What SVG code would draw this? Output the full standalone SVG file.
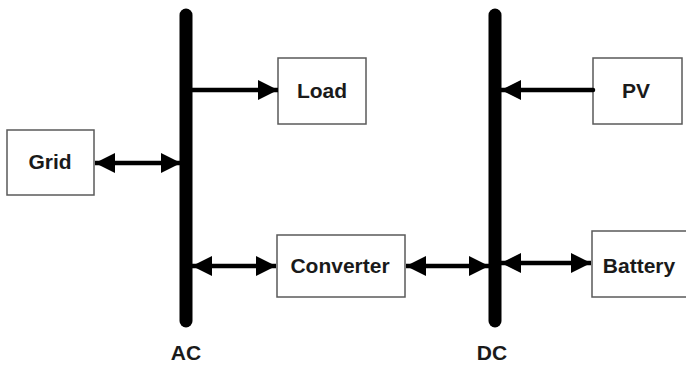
<svg xmlns="http://www.w3.org/2000/svg" width="686" height="367" viewBox="0 0 686 367">
<style>
.box{fill:#fff;stroke:#5a5a5a;stroke-width:1.5}
.lbl{font-family:"Liberation Sans",Arial,sans-serif;font-weight:bold;font-size:21px;fill:#1a1a1a;text-anchor:middle}
.bus{stroke:#000;stroke-width:13;stroke-linecap:round}
.arr{stroke:#000;stroke-width:4.5;fill:none}
</style>
<defs>
<marker id="ah" markerUnits="userSpaceOnUse" markerWidth="22" markerHeight="22" refX="20" refY="10" orient="auto-start-reverse">
<path d="M0,0 L20,10 L0,20 z" fill="#000"/>
</marker>
</defs>
<rect width="686" height="367" fill="#fff"/>
<g id="ac-bus">
<line class="bus" x1="186" y1="15" x2="186" y2="321"/>
<text class="lbl" x="186" y="360">AC</text>
</g>
<g id="dc-bus">
<line class="bus" x1="495" y1="15" x2="495" y2="321"/>
<text class="lbl" x="492" y="360">DC</text>
</g>
<g id="grid">
<rect class="box" x="7" y="130" width="87" height="65"/>
<text class="lbl" x="50" y="169">Grid</text>
</g>
<g id="load">
<rect class="box" x="278" y="58" width="88" height="66"/>
<text class="lbl" x="322" y="98">Load</text>
</g>
<g id="converter">
<rect class="box" x="277" y="235" width="128" height="62"/>
<text class="lbl" x="340" y="273">Converter</text>
</g>
<g id="pv">
<rect class="box" x="593" y="58" width="89" height="66"/>
<text class="lbl" x="636" y="98">PV</text>
</g>
<g id="battery">
<rect class="box" x="592" y="231" width="100" height="66"/>
<text class="lbl" x="639" y="273">Battery</text>
</g>
<g id="connectors">
<line class="arr" x1="192" y1="90" x2="278" y2="90" marker-end="url(#ah)"/>
<line class="arr" x1="95" y1="163" x2="181" y2="163" marker-start="url(#ah)" marker-end="url(#ah)"/>
<line class="arr" x1="192" y1="266" x2="276" y2="266" marker-start="url(#ah)" marker-end="url(#ah)"/>
<line class="arr" x1="406" y1="266" x2="489" y2="266" marker-start="url(#ah)" marker-end="url(#ah)"/>
<line class="arr" x1="501" y1="263" x2="591" y2="263" marker-start="url(#ah)" marker-end="url(#ah)"/>
<line class="arr" x1="593" y1="90" x2="501" y2="90" stroke-linecap="round" marker-end="url(#ah)"/>
</g>
</svg>
